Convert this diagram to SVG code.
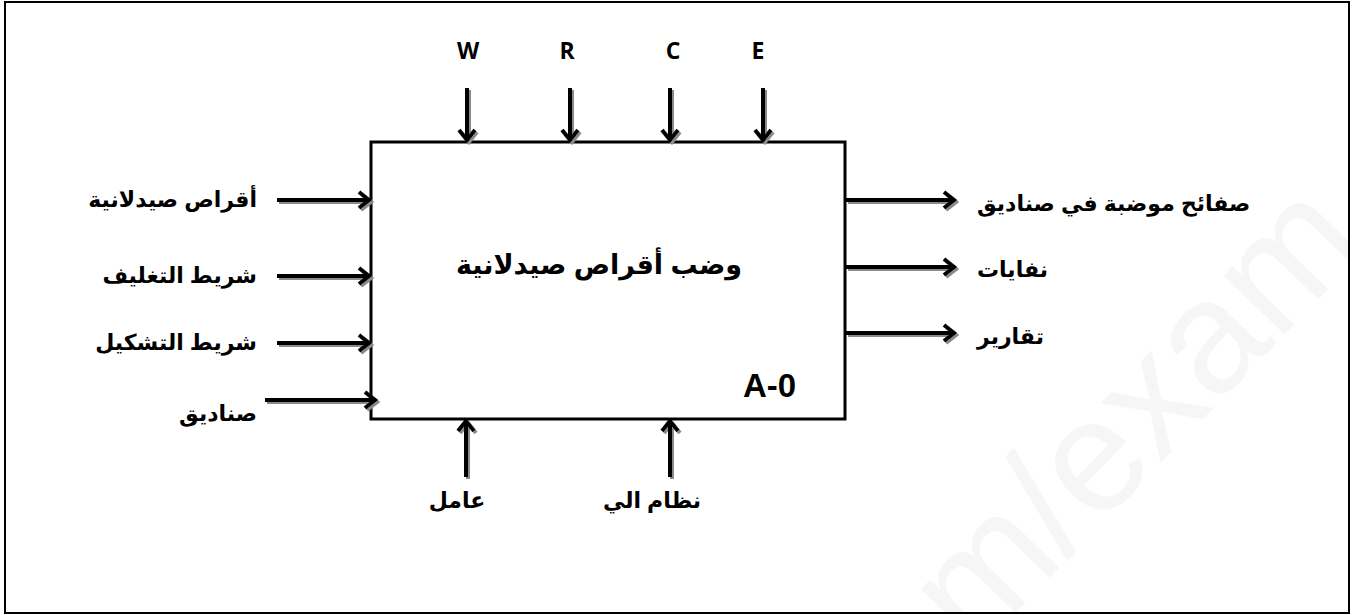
<svg xmlns="http://www.w3.org/2000/svg" width="1353" height="615" viewBox="0 0 1353 615">
<style>
.lbl{font-family:"Liberation Sans",Arial,"DejaVu Sans",sans-serif;font-weight:bold;font-size:22px;fill:#000}
.top{font-family:"Open Sans","Liberation Sans",sans-serif;font-weight:bold;font-size:23px;fill:#000;text-anchor:middle}
.con{fill:none;stroke:#000;stroke-width:4;marker-end:url(#arr)}
</style>
<defs>
<marker id="arr" markerUnits="userSpaceOnUse" viewBox="-14 -11 16 22" refX="0" refY="0" markerWidth="16" markerHeight="22" orient="auto">
<path d="M-11,-8 L-1,0 L-11,8" fill="none" stroke="#000" stroke-width="4"/>
</marker>
<filter id="sh" x="-20%" y="-20%" width="140%" height="140%">
<feDropShadow dx="2" dy="2" stdDeviation="0.4" flood-color="#8a8a8a" flood-opacity="1"/>
</filter>
<clipPath id="frameClip"><rect x="6" y="3" width="1342" height="609"/></clipPath>
</defs>
<rect width="1353" height="615" fill="#fff"/>
<g clip-path="url(#frameClip)">
<text x="974" y="656" transform="rotate(-46 974 656)" font-family="'Liberation Sans',Arial,sans-serif" font-size="160" fill="#f6f6f6">m/exam</text>
</g>
<rect id="frame" x="5" y="2" width="1344" height="611" fill="none" stroke="#000" stroke-width="2"/>
<g id="node-A0">
<rect x="371" y="142" width="474" height="277" fill="none" stroke="#000" stroke-width="3"/>
<text class="lbl" x="599" y="274" text-anchor="middle" style="font-size:27px">وضب أقراص صيدلانية</text>
<text x="743" y="397" font-family="'Liberation Sans',Arial,sans-serif" font-weight="bold" font-size="33">A-0</text>
</g>
<g id="connectors" filter="url(#sh)">
<path class="con" d="M467,88 V141"/>
<path class="con" d="M570,88 V141"/>
<path class="con" d="M670,88 V141"/>
<path class="con" d="M763,88 V141"/>
<path class="con" d="M277,200 H370"/>
<path class="con" d="M277,276 H370"/>
<path class="con" d="M277,343 H370"/>
<path class="con" d="M265,400 H376"/>
<path class="con" d="M846,200 H955"/>
<path class="con" d="M846,267 H955"/>
<path class="con" d="M846,333 H955"/>
<path class="con" d="M466,477 V420"/>
<path class="con" d="M670,477 V420"/>
</g>
<g id="mechanism-labels">
<text class="top" x="468" y="59">W</text>
<text class="top" x="567" y="59">R</text>
<text class="top" x="673" y="59">C</text>
<text class="top" x="758" y="59">E</text>
</g>
<g id="inputs">
<text class="lbl" x="257" y="207" text-anchor="end">أقراص صيدلانية</text>
<text class="lbl" x="257" y="283" text-anchor="end">شريط التغليف</text>
<text class="lbl" x="257" y="350" text-anchor="end">شريط التشكيل</text>
<text class="lbl" x="257" y="421" text-anchor="end">صناديق</text>
</g>
<g id="outputs">
<text class="lbl" x="977" y="211">صفائح موضبة في صناديق</text>
<text class="lbl" x="977" y="277">نفايات</text>
<text class="lbl" x="977" y="344">تقارير</text>
</g>
<g id="controls">
<text class="lbl" x="457" y="508" text-anchor="middle">عامل</text>
<text class="lbl" x="652" y="508" text-anchor="middle">نظام الي</text>
</g>
</svg>
